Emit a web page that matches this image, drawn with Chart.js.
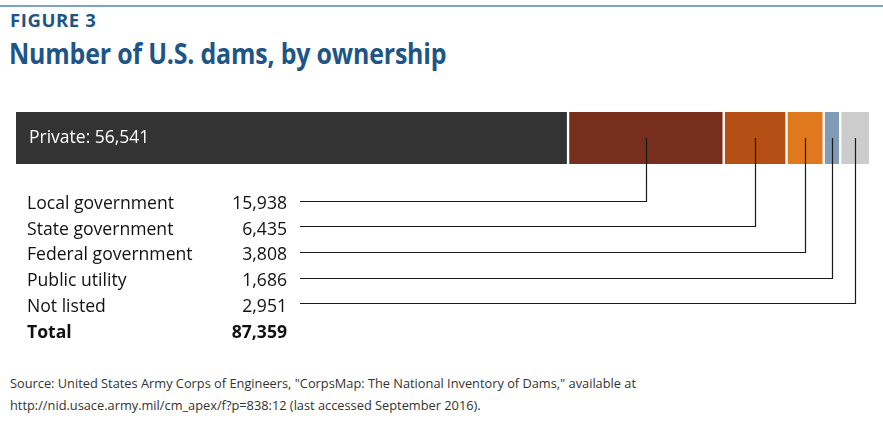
<!DOCTYPE html>
<html>
<head>
<meta charset="utf-8">
<script src="https://cdn.jsdelivr.net/npm/chart.js@4"></script>
<style>
  html,body{margin:0;padding:0;background:#fff;}
  body{width:883px;height:440px;position:relative;overflow:hidden;font-family:"Open Sans","Noto Sans",sans-serif;}
  #rule{position:absolute;left:0;top:5px;width:883px;height:2px;background:#7ba3c2;}
  #fig{position:absolute;left:10px;top:7px;font-weight:700;font-size:18.5px;color:#1d5587;letter-spacing:0.6px;}
  #title{position:absolute;left:9px;top:34px;font-weight:700;font-size:28px;color:#1d5587;letter-spacing:-0.2px;transform:scaleX(0.89);transform-origin:0 0;white-space:nowrap;}
  #source{position:absolute;left:10px;top:372px;font-size:12.8px;line-height:22px;color:#333;white-space:nowrap;}
  canvas{position:absolute;left:0;top:0;}
</style>
</head>
<body>
<div id="rule"></div>
<div id="fig">FIGURE 3</div>
<div id="title">Number of U.S. dams, by ownership</div>
<div id="source">Source: United States Army Corps of Engineers, "CorpsMap: The National Inventory of Dams," available at<br>http://nid.usace.army.mil/cm_apex/f?p=838:12 (last accessed September 2016).</div>
<canvas id="c" width="883" height="440"></canvas>
<script>
const categories = ["Private", "Local government", "State government", "Federal government", "Public utility", "Not listed"];
const values = [56541, 15938, 6435, 3808, 1686, 2951];
const colors = ["#333333", "#772e1d", "#b54f15", "#e0791e", "#7f9bb5", "#cccccc"];
const totalLabel = "Total";
const total = values.reduce((a, b) => a + b, 0);
const fmt = v => v.toLocaleString("en-US");

const datasets = categories.map((name, i) => ({
  label: name,
  data: [values[i]],
  backgroundColor: colors[i],
  borderColor: "#ffffff",
  borderWidth: {left: i === 0 ? 0 : 1.5, right: i === categories.length - 1 ? 0 : 1.5, top: 0, bottom: 0},
  borderSkipped: false,
  barPercentage: 1,
  categoryPercentage: 1
}));

const FONT = '"Open Sans","Noto Sans",sans-serif';

const annot = {
  id: "annot",
  afterDatasetsDraw(chart) {
    const ctx = chart.ctx;
    const xs = chart.scales.x;
    const ys = chart.scales.y;
    const yMid = ys.getPixelForValue(0);
    ctx.save();
    ctx.fillStyle = "#ffffff";
    ctx.font = "17.5px " + FONT;
    ctx.textBaseline = "middle";
    ctx.textAlign = "left";
    ctx.fillText(categories[0] + ": " + fmt(values[0]), 29, yMid);

    let cum = values[0];
    const rowBase = 209, rowStep = 25.7;
    for (let i = 1; i < categories.length; i++) {
      const start = cum;
      cum += values[i];
      const cx = Math.round(xs.getPixelForValue((start + cum) / 2)) + 0.5;
      const base = rowBase + (i - 1) * rowStep;
      const ly = Math.round(base - 8.5) + 0.5;
      ctx.fillStyle = "#111";
      ctx.font = "17.6px " + FONT;
      ctx.textBaseline = "alphabetic";
      ctx.textAlign = "left";
      ctx.fillText(categories[i], 27, base);
      ctx.textAlign = "right";
      ctx.fillText(fmt(values[i]), 287, base);
      ctx.strokeStyle = "#1a1a1a";
      ctx.lineWidth = 1.2;
      ctx.beginPath();
      ctx.moveTo(cx, yMid);
      ctx.lineTo(cx, ly);
      ctx.lineTo(300, ly);
      ctx.stroke();
    }
    const tb = rowBase + (categories.length - 1) * rowStep;
    ctx.font = "bold 17.6px " + FONT;
    ctx.textAlign = "left";
    ctx.fillText(totalLabel, 27, tb);
    ctx.textAlign = "right";
    ctx.fillText(fmt(total), 287, tb);
    ctx.restore();
  }
};

new Chart(document.getElementById("c"), {
  type: "bar",
  data: {labels: ["Dams"], datasets},
  options: {
    indexAxis: "y",
    responsive: false,
    animation: false,
    events: [],
    layout: {padding: {left: 16, right: 14, top: 112, bottom: 276}},
    plugins: {legend: {display: false}, tooltip: {enabled: false}, title: {display: false}},
    scales: {
      x: {stacked: true, display: false, min: 0, max: total},
      y: {stacked: true, display: false}
    }
  },
  plugins: [annot]
});
</script>
</body>
</html>
